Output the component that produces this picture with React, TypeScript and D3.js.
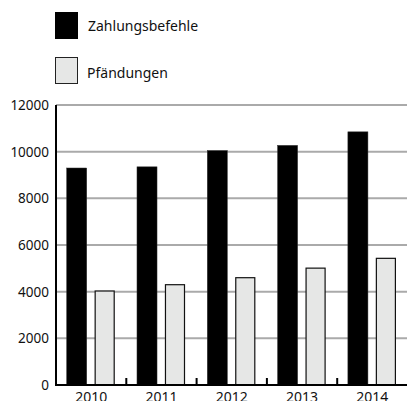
import React from "react";
import * as d3 from "d3";

const years = ["2010", "2011", "2012", "2013", "2014"];
const zahlungsbefehle = [9300, 9350, 10050, 10270, 10850];
const pfaendungen = [4050, 4320, 4620, 5030, 5450];
const yTicks = [0, 2000, 4000, 6000, 8000, 10000, 12000];

const W = 407;
const H = 401;
const font = "'Noto Sans', sans-serif";

export default function App() {
  const left = 56;
  const right = 407.5;
  const top = 105;
  const bottom = 385;
  const x = d3.scaleBand<string>().domain(years).range([left, right]).padding(0);
  const y = d3.scaleLinear().domain([0, 12000]).range([bottom, top]);
  const bw = x.bandwidth();
  const barW = bw * 0.285;
  const off1 = bw * 0.152;
  const off2 = bw * 0.55;

  return (
    <svg width={W} height={H} style={{ position: "absolute", left: 0, top: 0 }} fontFamily={font}>
      <rect x={0} y={0} width={W} height={H} fill="#fff" />
      {/* legend */}
      <rect x={55} y={12} width={23} height={27} fill="#000" />
      <text x={88} y={31} fontSize={14} fill="#111">Zahlungsbefehle</text>
      <rect x={55.5} y={57.5} width={22} height={26} fill="#e6e7e6" stroke="#222" strokeWidth={1} />
      <text x={87} y={78} fontSize={14} fill="#111">Pfändungen</text>

      {/* gridlines */}
      {yTicks.filter((t) => t > 0).map((t) => (
        <line key={t} x1={left} x2={W} y1={y(t)} y2={y(t)} stroke="#aaa" strokeWidth={2} />
      ))}
      {/* y labels */}
      {yTicks.map((t) => (
        <text key={t} x={49} y={y(t) + 5} fontSize={13.5} textAnchor="end" fill="#111">{t}</text>
      ))}

      {/* bars */}
      {years.map((yr, i) => (
        <g key={yr}>
          <rect x={(x(yr) as number) + off1} y={y(zahlungsbefehle[i])} width={barW} height={bottom - y(zahlungsbefehle[i])} fill="#000" stroke="#333" strokeWidth={0.5} />
          <rect x={(x(yr) as number) + off2 + 0.5} y={y(pfaendungen[i]) + 0.5} width={barW - 1} height={bottom - y(pfaendungen[i]) - 0.5} fill="#e6e7e6" stroke="#111" strokeWidth={1.2} />
        </g>
      ))}

      {/* axes */}
      <line x1={left} x2={left} y1={top} y2={bottom + 1} stroke="#000" strokeWidth={2} />
      <line x1={left - 1} x2={W} y1={bottom} y2={bottom} stroke="#000" strokeWidth={2} />
      {years.slice(1).map((yr) => (
        <line key={yr} x1={x(yr) as number} x2={x(yr) as number} y1={bottom - 7} y2={bottom} stroke="#000" strokeWidth={2} />
      ))}
      {/* x labels */}
      {years.map((yr) => (
        <text key={yr} x={(x(yr) as number) + bw / 2} y={401.5} fontSize={14} textAnchor="middle" fill="#111">{yr}</text>
      ))}
    </svg>
  );
}
